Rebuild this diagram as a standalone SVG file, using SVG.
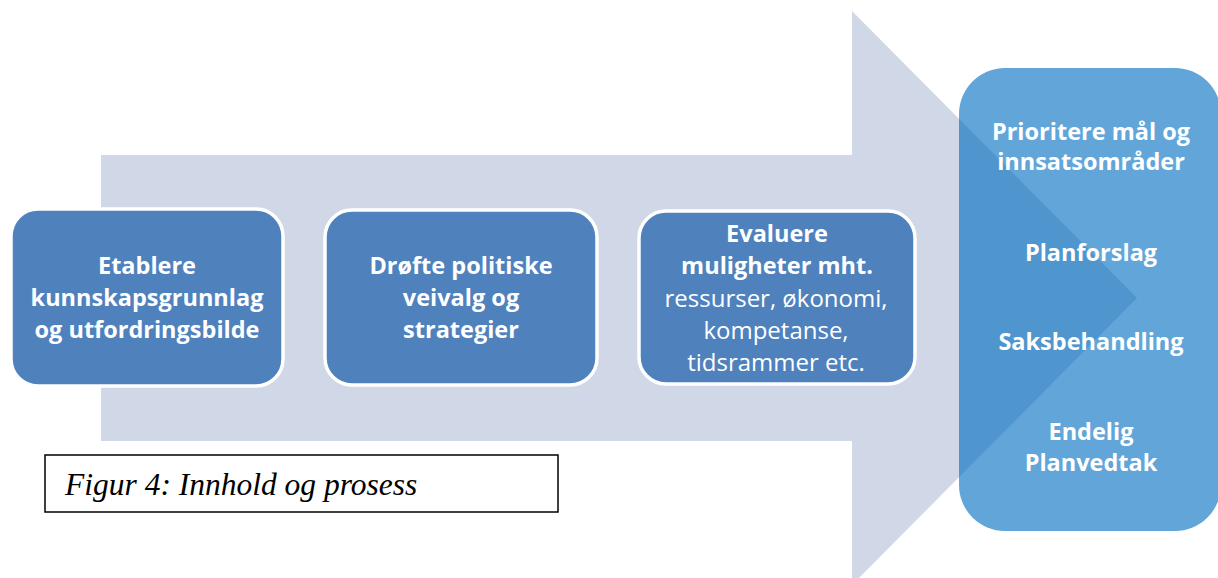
<svg xmlns="http://www.w3.org/2000/svg" width="1218" height="578" viewBox="0 0 1218 578">
<style>
.step{fill:#4F81BD;stroke:#FFFFFF;stroke-width:3.5}
.t{font-family:"Open Sans","Liberation Sans",sans-serif;font-weight:bold;font-size:23.5px;fill:#FFFFFF;text-anchor:middle}
.r{font-weight:normal;font-size:24px}
.cap{font-family:"Liberation Serif","Times New Roman",serif;font-style:italic;font-size:31.5px;fill:#000000}
</style>
<defs>
<clipPath id="rbclip"><rect x="959" y="68" width="262" height="463" rx="46" ry="46"/></clipPath>
</defs>
<rect width="1218" height="578" fill="#FFFFFF"/>
<g id="connectors">
<polygon id="big-arrow" points="101,155 852,155 852,11 1137,298 852,585 852,441 101,441" fill="#D0D8E7"/>
</g>
<g id="node-1">
<rect class="step" x="11" y="209" width="272" height="177" rx="27" ry="27"/>
<text class="t" x="147" y="274">Etablere</text>
<text class="t" x="147" y="306">kunnskapsgrunnlag</text>
<text class="t" x="147" y="338">og utfordringsbilde</text>
</g>
<g id="node-2">
<rect class="step" x="325" y="210" width="272" height="175" rx="27" ry="27"/>
<text class="t" x="461" y="274">Drøfte politiske</text>
<text class="t" x="461" y="306">veivalg og</text>
<text class="t" x="461" y="338">strategier</text>
</g>
<g id="node-3">
<rect class="step" x="639" y="211" width="276" height="173" rx="27" ry="27"/>
<text class="t" x="777" y="242">Evaluere</text>
<text class="t" x="777" y="274">muligheter mht.</text>
<text class="t r" x="776" y="307">ressurser, økonomi,</text>
<text class="t r" x="776" y="339">kompetanse,</text>
<text class="t r" x="776" y="371">tidsrammer etc.</text>
</g>
<g id="node-4">
<rect x="959" y="68" width="262" height="463" rx="46" ry="46" fill="#62A6D9"/>
<polygon points="852,11 1137,298 852,585" fill="#4F96CF" clip-path="url(#rbclip)"/>
<text class="t" x="1091" y="140" font-size="25">Prioritere mål og</text>
<text class="t" x="1091" y="170" font-size="25">innsatsområder</text>
<text class="t" x="1091" y="261" font-size="25">Planforslag</text>
<text class="t" x="1091" y="350" font-size="25">Saksbehandling</text>
<text class="t" x="1091" y="440" font-size="25">Endelig</text>
<text class="t" x="1091" y="471" font-size="25">Planvedtak</text>
</g>
<g id="caption">
<rect x="45" y="455" width="513" height="57" fill="#FFFFFF" stroke="#000000" stroke-width="1.5"/>
<text class="cap" x="65" y="495">Figur 4: Innhold og prosess</text>
</g>
</svg>
